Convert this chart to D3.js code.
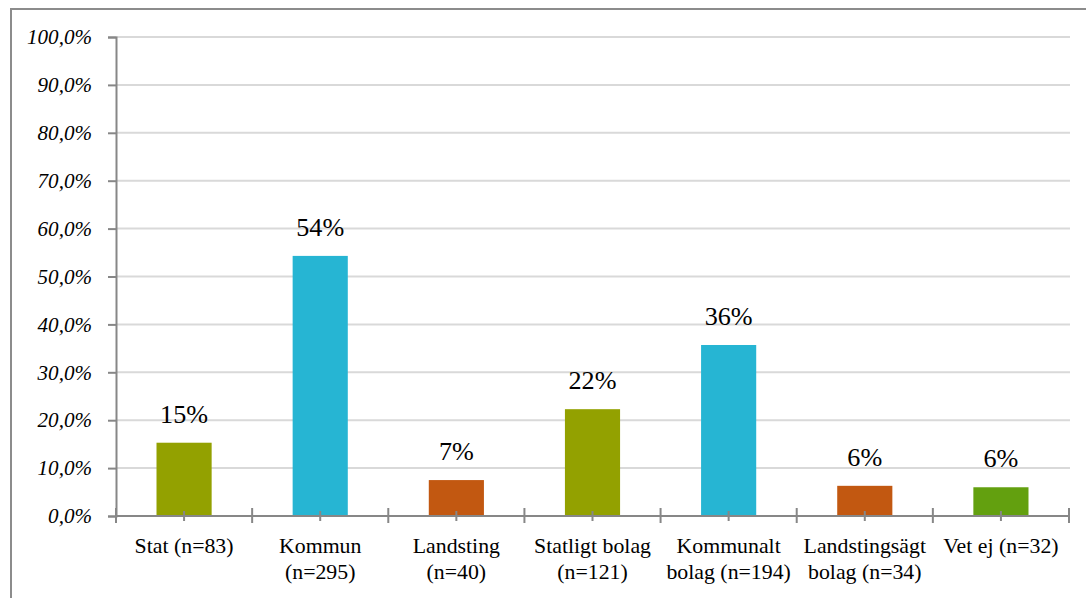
<!DOCTYPE html>
<html>
<head>
<meta charset="utf-8">
<script src="https://cdn.jsdelivr.net/npm/d3@7"></script>
<style>
  html, body { margin: 0; padding: 0; background: #fff; }
  svg { display: block; }
</style>
</head>
<body>
<svg id="chart" width="1086" height="598"></svg>
<script>
const categories = [
  ["Stat (n=83)"],
  ["Kommun", "(n=295)"],
  ["Landsting", "(n=40)"],
  ["Statligt bolag", "(n=121)"],
  ["Kommunalt", "bolag (n=194)"],
  ["Landstingsägt", "bolag (n=34)"],
  ["Vet ej (n=32)"]
];
const values = [0.153, 0.543, 0.075, 0.223, 0.357, 0.063, 0.060];
const valueLabels = ["15%", "54%", "7%", "22%", "36%", "6%", "6%"];
const barColors = ["#93a100", "#26b5d3", "#c25811", "#93a100", "#26b5d3", "#c25811", "#63a00f"];
const yTicks = [0, 0.1, 0.2, 0.3, 0.4, 0.5, 0.6, 0.7, 0.8, 0.9, 1.0];

// pick an installed serif font
const ctx = document.createElement("canvas").getContext("2d");
function w(font, s) { ctx.font = font; return ctx.measureText(s).width; }
const probe = "Stat (n=83) Kommunalt bolag";
const base = w("40px monospace", probe);
let serif = "serif";
for (const f of ["Liberation Serif", "DejaVu Serif"]) {
  if (Math.abs(w(`40px "${f}", monospace`, probe) - base) > 0.5) { serif = `"${f}"`; break; }
}
function fit(str, target, italic) {
  const ww = w(`${italic ? "italic " : ""}100px ${serif}`, str);
  return 100 * target / ww;
}
const catSize = fit("Stat (n=83)", 99, false);
const tickSize = fit("100,0%", 65, true);
const valSize = fit("15%", 48, false);

const svg = d3.select("#chart");
const mLeft = 116, mRight = 1069, mTop = 37, mBottom = 516;

svg.append("path")
  .attr("d", `M11,598 V9 H1086`)
  .attr("fill", "none").attr("stroke", "#8c8c8c").attr("stroke-width", 2);

const x = d3.scaleBand().domain(d3.range(categories.length)).range([mLeft, mRight]).paddingInner(0).paddingOuter(0);
const y = d3.scaleLinear().domain([0, 1]).range([mBottom, mTop]);

svg.append("g").selectAll("line").data(yTicks.filter(d => d > 0)).join("line")
  .attr("x1", mLeft).attr("x2", mRight + 1)
  .attr("y1", d => y(d)).attr("y2", d => y(d))
  .attr("stroke", "#d9d9d9").attr("stroke-width", 2);

const yAxis = svg.append("g").attr("transform", `translate(${mLeft},0)`)
  .call(d3.axisLeft(y).tickValues(yTicks).tickSize(8).tickPadding(16)
    .tickFormat(d => d3.format(".1f")(d * 100).replace(".", ",") + "%"));
yAxis.select(".domain").attr("stroke", "#878787").attr("stroke-width", 2);
yAxis.selectAll(".tick line").attr("stroke", "#878787").attr("stroke-width", 2);
yAxis.selectAll(".tick text").style("font-family", serif).attr("font-style", "italic")
  .attr("font-size", tickSize).attr("fill", "#000");

const bw = x.bandwidth() * 0.405;
svg.append("g").selectAll("rect").data(values).join("rect")
  .attr("x", (d, i) => x(i) + x.bandwidth() / 2 - bw / 2)
  .attr("width", bw)
  .attr("y", d => y(d))
  .attr("height", d => mBottom - y(d))
  .attr("fill", (d, i) => barColors[i]);

svg.append("line").attr("x1", mLeft).attr("x2", mRight).attr("y1", mBottom).attr("y2", mBottom)
  .attr("stroke", "#878787").attr("stroke-width", 2);
const bounds = d3.range(categories.length + 1).map(i => mLeft + i * x.bandwidth());
svg.append("g").selectAll("line").data(bounds).join("line")
  .attr("x1", d => d).attr("x2", d => d).attr("y1", mBottom - 8).attr("y2", mBottom + 7)
  .attr("stroke", "#878787").attr("stroke-width", 2);
svg.append("g").selectAll("line").data(d3.range(categories.length)).join("line")
  .attr("x1", i => x(i) + x.bandwidth() / 2).attr("x2", i => x(i) + x.bandwidth() / 2)
  .attr("y1", mBottom - 5).attr("y2", mBottom + 5)
  .attr("stroke", "#878787").attr("stroke-width", 2);

svg.append("g").selectAll("text").data(values).join("text")
  .attr("x", (d, i) => x(i) + x.bandwidth() / 2)
  .attr("y", d => y(d) - 20)
  .attr("text-anchor", "middle")
  .style("font-family", serif).attr("font-size", valSize).attr("fill", "#000")
  .text((d, i) => valueLabels[i]);

const cl = svg.append("g").selectAll("text").data(categories).join("text")
  .attr("x", (d, i) => x(i) + x.bandwidth() / 2)
  .attr("y", 553)
  .attr("text-anchor", "middle")
  .style("font-family", serif).attr("font-size", catSize).attr("fill", "#000");
cl.selectAll("tspan").data(d => d).join("tspan")
  .attr("x", function() { return this.parentNode.getAttribute("x"); })
  .attr("dy", (d, j) => j === 0 ? 0 : 26)
  .text(d => d);
</script>
</body>
</html>
